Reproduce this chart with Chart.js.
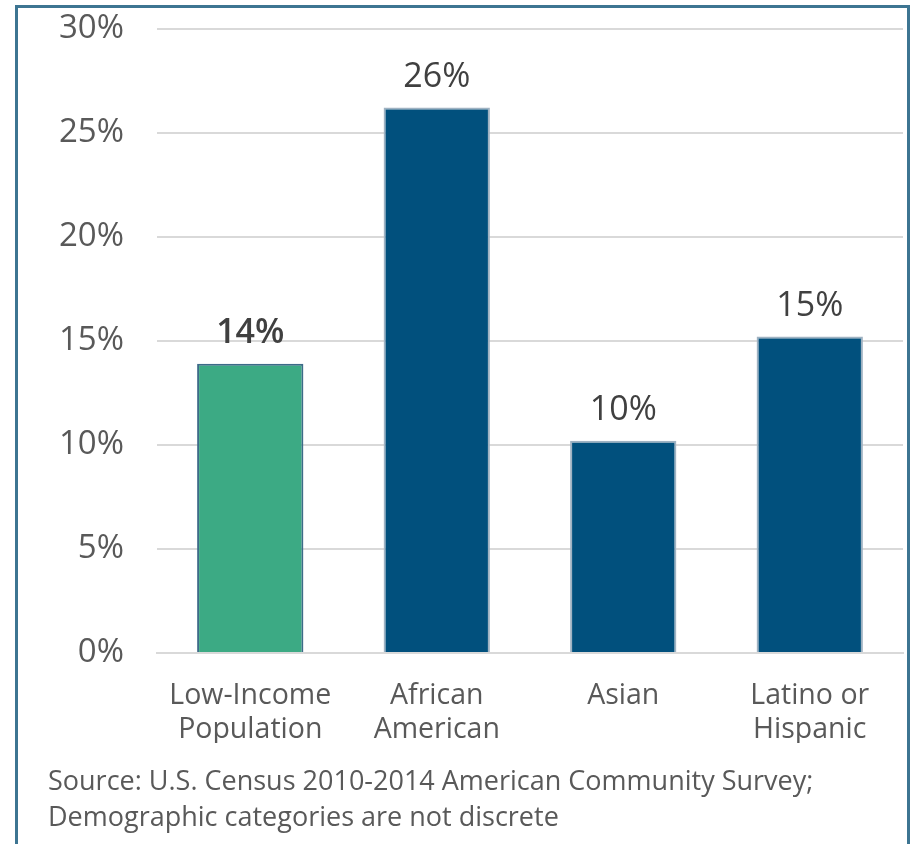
<!DOCTYPE html>
<html><head><meta charset="utf-8">
<script src="https://cdn.jsdelivr.net/npm/chart.js@4"></script>
<style>
html,body{margin:0;padding:0;background:#fff;width:911px;height:844px;overflow:hidden;}
#frame{position:absolute;left:15px;top:5px;width:895px;height:900px;border:3px solid #3d7592;box-sizing:border-box;}
#wrap{position:absolute;left:0;top:-21px;width:911px;height:865px;}
#note{position:absolute;left:48px;top:762px;font-family:"Open Sans",sans-serif;font-size:27px;line-height:36px;color:#595959;white-space:nowrap;}
</style></head>
<body>
<div id="frame"></div>
<div id="wrap"><canvas id="c" width="911" height="865"></canvas></div>
<div id="note">Source: U.S. Census 2010-2014 American Community Survey;<br>Demographic categories are not discrete</div>
<script>
const categories = [["Low-Income","Population"],["African","American"],["Asian"],["Latino or","Hispanic"]];
const values = [13.9, 26.2, 10.2, 15.2];
const valueLabels = ["14%","26%","10%","15%"];
const yTicks = [0,5,10,15,20,25,30];
const barColors = ["#3caa84","#01507d","#01507d","#01507d"];
const borderColors = ["#3d6b88","#9fb2c2","#9fb2c2","#9fb2c2"];

const dataLabelPlugin = {
  id:'dataLabels',
  afterDatasetsDraw(chart){
    const ctx = chart.ctx;
    const meta = chart.getDatasetMeta(0);
    ctx.save();
    ctx.fillStyle = '#404040';
    ctx.textAlign = 'center';
    ctx.textBaseline = 'middle';
    meta.data.forEach((bar,i)=>{
      ctx.font = (i===0 ? '600' : '500') + ' 34px "Open Sans", sans-serif';
      ctx.fillText(valueLabels[i], bar.x, bar.y - 30);
    });
    ctx.restore();
  }
};

new Chart(document.getElementById('c'),{
  type:'bar',
  data:{labels:categories,datasets:[{data:values,backgroundColor:barColors,borderColor:borderColors,borderWidth:2,categoryPercentage:0.57,barPercentage:1}]},
  options:{
    responsive:false,animation:false,
    layout:{padding:{left:20,right:8,top:12,bottom:101}},
    plugins:{legend:{display:false},tooltip:{enabled:false}},
    scales:{
      y:{min:0,max:30,afterBuildTicks(s){s.ticks=yTicks.map(v=>({value:v}));},
        ticks:{padding:33,color:'#595959',font:{family:'"Open Sans", sans-serif',size:33,lineHeight:1},callback:v=>v+'%'},
        grid:{color:'#d9d9d9',lineWidth:2,drawTicks:false},border:{display:false},
        afterFit(s){s.width=137;}},
      x:{ticks:{padding:17,color:'#595959',font:{family:'"Open Sans", sans-serif',size:28.5,lineHeight:1.22},maxRotation:0,autoSkip:false},
        grid:{display:false},border:{color:'#d9d9d9',width:2},
        afterFit(s){s.height=90;}}
    }
  },
  plugins:[dataLabelPlugin]
});
</script>
</body></html>
